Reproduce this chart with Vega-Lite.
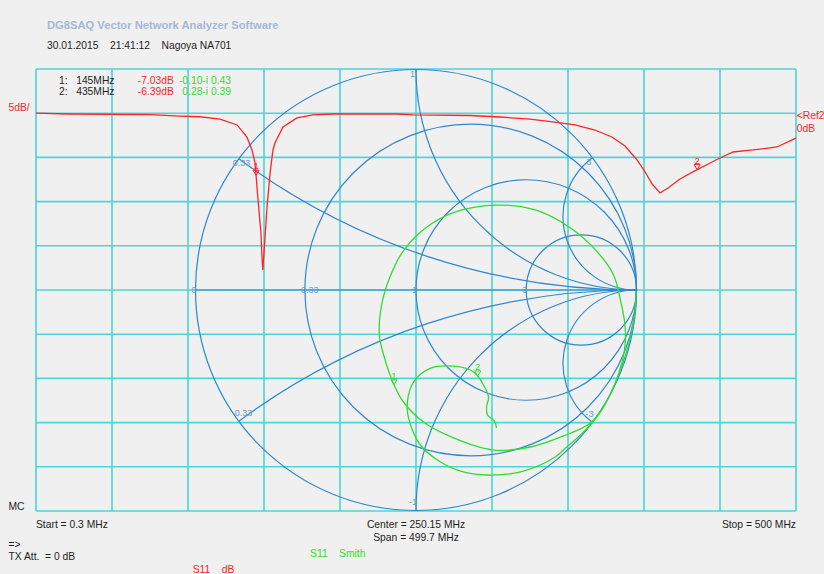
{
  "$schema": "https://vega.github.io/schema/vega-lite/v6.json",
  "width": 760,
  "height": 442,
  "autosize": {"type": "none"},
  "padding": {"left": 36, "top": 69, "right": 28, "bottom": 63},
  "background": "#f0f0f0",
  "config": {
    "view": {"stroke": null},
    "font": "Liberation Sans",
    "text": {"font": "Liberation Sans", "fontSize": 10.3}
  },
  "datasets": {
    "freqDivisions": [
      {"f": 0.3}, {"f": 50.27}, {"f": 100.24}, {"f": 150.21}, {"f": 200.18}, {"f": 250.15},
      {"f": 300.12}, {"f": 350.09}, {"f": 400.06}, {"f": 450.03}, {"f": 500}
    ],
    "dbDivisions": [
      {"db": -45}, {"db": -40}, {"db": -35}, {"db": -30}, {"db": -25}, {"db": -20},
      {"db": -15}, {"db": -10}, {"db": -5}, {"db": 0}, {"db": 5}
    ],
    "s11db": [
      {"f": 0.3, "db": 0.0}, {"f": 21.3, "db": -0.09}, {"f": 75.3, "db": -0.15}, {"f": 95.0, "db": -0.32},
      {"f": 108.1, "db": -0.40}, {"f": 121.3, "db": -0.66}, {"f": 132.5, "db": -1.33}, {"f": 139.0, "db": -2.69},
      {"f": 142.3, "db": -4.16}, {"f": 144.3, "db": -5.63}, {"f": 145.0, "db": -7.03}, {"f": 146.3, "db": -9.82},
      {"f": 148.2, "db": -13.55}, {"f": 148.9, "db": -16.27}, {"f": 149.4, "db": -17.74}, {"f": 150.2, "db": -15.81},
      {"f": 152.2, "db": -10.61}, {"f": 154.2, "db": -6.76}, {"f": 156.1, "db": -4.16}, {"f": 157.4, "db": -3.37},
      {"f": 162.7, "db": -1.56}, {"f": 171.9, "db": -0.54}, {"f": 182.4, "db": -0.20}, {"f": 195.6, "db": -0.09},
      {"f": 237.7, "db": -0.09}, {"f": 248.2, "db": -0.20}, {"f": 285.7, "db": -0.26}, {"f": 305.6, "db": -0.43},
      {"f": 325.1, "db": -0.66}, {"f": 341.5, "db": -1.0}, {"f": 354.7, "db": -1.33}, {"f": 367.8, "db": -1.90},
      {"f": 379.0, "db": -2.69}, {"f": 387.6, "db": -3.71}, {"f": 395.5, "db": -5.29}, {"f": 400.8, "db": -6.65},
      {"f": 405.4, "db": -8.01}, {"f": 410.6, "db": -9.03}, {"f": 415.9, "db": -8.46}, {"f": 423.7, "db": -7.44},
      {"f": 435.0, "db": -6.39}, {"f": 443.5, "db": -5.63}, {"f": 450.0, "db": -5.07}, {"f": 458.6, "db": -4.39},
      {"f": 471.7, "db": -4.16}, {"f": 487.5, "db": -3.82}, {"f": 500.0, "db": -2.81}
    ],
    "s11smith": [
      {"i": 1, "re": 0.998, "im": -0.005}, {"i": 2, "re": 0.991, "im": -0.113}, {"i": 3, "re": 0.964, "im": -0.249},
      {"i": 4, "re": 0.918, "im": -0.385}, {"i": 5, "re": 0.855, "im": -0.522}, {"i": 6, "re": 0.791, "im": -0.603},
      {"i": 7, "re": 0.669, "im": -0.662}, {"i": 8, "re": 0.519, "im": -0.712}, {"i": 9, "re": 0.351, "im": -0.726},
      {"i": 10, "re": 0.170, "im": -0.671}, {"i": 11, "re": 0.034, "im": -0.599}, {"i": 12, "re": -0.057, "im": -0.508},
      {"i": 13, "re": -0.10, "im": -0.43}, {"i": 14, "re": -0.143, "im": -0.308}, {"i": 15, "re": -0.166, "im": -0.204},
      {"i": 16, "re": -0.156, "im": -0.068}, {"i": 17, "re": -0.120, "im": 0.054}, {"i": 18, "re": -0.061, "im": 0.172},
      {"i": 19, "re": 0.043, "im": 0.281}, {"i": 20, "re": 0.179, "im": 0.354}, {"i": 21, "re": 0.365, "im": 0.385},
      {"i": 22, "re": 0.542, "im": 0.363}, {"i": 23, "re": 0.701, "im": 0.281}, {"i": 24, "re": 0.823, "im": 0.172},
      {"i": 25, "re": 0.896, "im": 0.068}, {"i": 26, "re": 0.927, "im": -0.045}, {"i": 27, "re": 0.946, "im": -0.145},
      {"i": 28, "re": 0.950, "im": -0.227}, {"i": 29, "re": 0.937, "im": -0.317}, {"i": 30, "re": 0.900, "im": -0.431},
      {"i": 31, "re": 0.837, "im": -0.553}, {"i": 32, "re": 0.760, "im": -0.644}, {"i": 33, "re": 0.678, "im": -0.717},
      {"i": 34, "re": 0.624, "im": -0.762}, {"i": 35, "re": 0.474, "im": -0.825}, {"i": 36, "re": 0.324, "im": -0.839},
      {"i": 37, "re": 0.215, "im": -0.825}, {"i": 38, "re": 0.111, "im": -0.780}, {"i": 39, "re": 0.020, "im": -0.703},
      {"i": 40, "re": -0.034, "im": -0.580}, {"i": 41, "re": -0.039, "im": -0.508}, {"i": 42, "re": -0.011, "im": -0.417},
      {"i": 43, "re": 0.066, "im": -0.354}, {"i": 44, "re": 0.170, "im": -0.345}, {"i": 45, "re": 0.247, "im": -0.363},
      {"i": 46, "re": 0.28, "im": -0.39}, {"i": 47, "re": 0.306, "im": -0.431}, {"i": 48, "re": 0.329, "im": -0.485},
      {"i": 49, "re": 0.320, "im": -0.531}, {"i": 50, "re": 0.324, "im": -0.567}, {"i": 51, "re": 0.356, "im": -0.594},
      {"i": 52, "re": 0.365, "im": -0.626}
    ],
    "markers": [
      {"m": "1", "f": 145, "db": -7.03, "re": -0.10, "im": -0.43},
      {"m": "2", "f": 435, "db": -6.39, "re": 0.28, "im": -0.39}
    ],
    "smithGrid": [
      {"curve": "r=0", "cx": 0, "cy": 0, "rad": 1, "t0": 0, "t1": 360},
      {"curve": "r=0.33", "cx": 0.2481, "cy": 0, "rad": 0.7519, "t0": 0, "t1": 360},
      {"curve": "r=1", "cx": 0.5, "cy": 0, "rad": 0.5, "t0": 0, "t1": 360},
      {"curve": "r=3", "cx": 0.75, "cy": 0, "rad": 0.25, "t0": 0, "t1": 360},
      {"curve": "x=0.33", "cx": 1, "cy": 3.0303, "rad": 3.0303, "t0": 180, "t1": 216.52},
      {"curve": "x=1", "cx": 1, "cy": 1, "rad": 1, "t0": 180, "t1": 270},
      {"curve": "x=3", "cx": 1, "cy": 0.3333, "rad": 0.3333, "t0": 180, "t1": 323.13},
      {"curve": "x=-0.33", "cx": 1, "cy": -3.0303, "rad": 3.0303, "t0": 323.48, "t1": 360},
      {"curve": "x=-1", "cx": 1, "cy": -1, "rad": 1, "t0": 270, "t1": 360},
      {"curve": "x=-3", "cx": 1, "cy": -0.3333, "rad": 0.3333, "t0": 216.87, "t1": 360}
    ],
    "smithLabels": [
      {"side": "axis", "label": "0", "re": -1, "im": 0},
      {"side": "axis", "label": "0.33", "re": -0.5038, "im": 0},
      {"side": "axis", "label": "1", "re": 0, "im": 0},
      {"side": "axis", "label": "3", "re": 0.5, "im": 0},
      {"side": "upper", "label": "0.33", "re": -0.8036, "im": 0.5952},
      {"side": "upper", "label": "1", "re": 0, "im": 1},
      {"side": "upper", "label": "3", "re": 0.8, "im": 0.6},
      {"side": "lower", "label": "-0.33", "re": -0.8036, "im": -0.5952},
      {"side": "lower", "label": "-1", "re": 0, "im": -1},
      {"side": "lower", "label": "-3", "re": 0.8, "im": -0.6}
    ]
  },
  "layer": [
    {
      "layer": [
        {
          "data": {"name": "freqDivisions"},
          "mark": {"type": "rule", "stroke": "#4cd5d9", "strokeWidth": 1.6},
          "encoding": {
            "x": {"field": "f", "type": "quantitative", "scale": {"domain": [0.3, 500], "nice": false, "zero": false}, "axis": null}
          }
        },
        {
          "data": {"name": "dbDivisions"},
          "mark": {"type": "rule", "stroke": "#4cd5d9", "strokeWidth": 1.6},
          "encoding": {
            "y": {"field": "db", "type": "quantitative", "scale": {"domain": [-45, 5], "nice": false, "zero": false}, "axis": null}
          }
        }
      ]
    },
    {
      "layer": [
        {
          "data": {"name": "smithGrid"},
          "mark": {"type": "arc", "filled": false, "stroke": "#2f88cf", "strokeWidth": 1.2},
          "encoding": {
            "x": {"field": "cx", "type": "quantitative", "scale": {"domain": [-1.7234, 1.7234], "nice": false, "zero": false}, "axis": null},
            "y": {"field": "cy", "type": "quantitative", "scale": {"domain": [-1.00227, 1.00227], "nice": false, "zero": false}, "axis": null},
            "radius": {"field": "rad", "type": "quantitative", "scale": {"type": "linear", "domain": [0, 1], "range": [0, 220.5], "zero": true, "nice": false}},
            "radius2": {"field": "rad"},
            "theta": {"field": "t0", "type": "quantitative", "scale": {"domain": [0, 360], "range": [0, 6.283185307179586]}, "stack": null},
            "theta2": {"field": "t1"}
          }
        },
        {
          "data": {"values": [{}]},
          "mark": {"type": "rule", "stroke": "#2f88cf", "strokeWidth": 1.2},
          "encoding": {
            "x": {"datum": -1, "type": "quantitative", "axis": null},
            "x2": {"datum": 1},
            "y": {"datum": 0, "type": "quantitative", "axis": null}
          }
        },
        {
          "data": {"name": "smithLabels"},
          "transform": [{"filter": "datum.side === 'axis'"}],
          "mark": {"type": "text", "align": "left", "baseline": "middle", "dx": -4, "fontSize": 9, "color": "#6a9ccc"},
          "encoding": {
            "x": {"field": "re", "type": "quantitative", "axis": null},
            "y": {"field": "im", "type": "quantitative", "axis": null},
            "text": {"field": "label"}
          }
        },
        {
          "data": {"name": "smithLabels"},
          "transform": [{"filter": "datum.side === 'upper'"}],
          "mark": {"type": "text", "align": "left", "baseline": "alphabetic", "dx": -6, "dy": 7, "fontSize": 9, "color": "#6a9ccc"},
          "encoding": {
            "x": {"field": "re", "type": "quantitative", "axis": null},
            "y": {"field": "im", "type": "quantitative", "axis": null},
            "text": {"field": "label"}
          }
        },
        {
          "data": {"name": "smithLabels"},
          "transform": [{"filter": "datum.side === 'lower'"}],
          "mark": {"type": "text", "align": "left", "baseline": "alphabetic", "dx": -7, "dy": -5, "fontSize": 9, "color": "#6a9ccc"},
          "encoding": {
            "x": {"field": "re", "type": "quantitative", "axis": null},
            "y": {"field": "im", "type": "quantitative", "axis": null},
            "text": {"field": "label"}
          }
        },
        {
          "data": {"name": "s11smith"},
          "mark": {"type": "line", "color": "#2fdc2f", "strokeWidth": 1.3, "interpolate": "catmull-rom"},
          "encoding": {
            "x": {"field": "re", "type": "quantitative", "axis": null},
            "y": {"field": "im", "type": "quantitative", "axis": null},
            "order": {"field": "i", "type": "quantitative"}
          }
        },
        {
          "data": {"name": "markers"},
          "mark": {"type": "point", "shape": "M-1,-1.7L1,-1.7L0,0Z", "size": 36, "filled": false, "color": "#2fdc2f", "strokeWidth": 1, "opacity": 1},
          "encoding": {
            "x": {"field": "re", "type": "quantitative", "axis": null},
            "y": {"field": "im", "type": "quantitative", "axis": null}
          }
        },
        {
          "data": {"name": "markers"},
          "mark": {"type": "text", "baseline": "alphabetic", "dy": -6, "fontSize": 9.5, "color": "#2fdc2f"},
          "encoding": {
            "x": {"field": "re", "type": "quantitative", "axis": null},
            "y": {"field": "im", "type": "quantitative", "axis": null},
            "text": {"field": "m"}
          }
        }
      ]
    },
    {
      "layer": [
        {
          "data": {"name": "s11db"},
          "mark": {"type": "line", "color": "#ff2424", "strokeWidth": 1.3},
          "encoding": {
            "x": {"field": "f", "type": "quantitative", "scale": {"domain": [0.3, 500], "nice": false, "zero": false}, "axis": null},
            "y": {"field": "db", "type": "quantitative", "scale": {"domain": [-45, 5], "nice": false, "zero": false}, "axis": null}
          }
        },
        {
          "data": {"name": "markers"},
          "mark": {"type": "point", "shape": "M-1,-1.7L1,-1.7L0,0Z", "size": 36, "filled": false, "color": "#ff2424", "strokeWidth": 1, "opacity": 1},
          "encoding": {
            "x": {"field": "f", "type": "quantitative", "axis": null},
            "y": {"field": "db", "type": "quantitative", "axis": null}
          }
        },
        {
          "data": {"name": "markers"},
          "mark": {"type": "text", "baseline": "alphabetic", "dy": -6, "fontSize": 9.5, "color": "#ff2424"},
          "encoding": {
            "x": {"field": "f", "type": "quantitative", "axis": null},
            "y": {"field": "db", "type": "quantitative", "axis": null},
            "text": {"field": "m"}
          }
        },
        {
          "data": {"values": [{}]},
          "mark": {"type": "text", "text": "DG8SAQ Vector Network Analyzer Software", "align": "left", "fontSize": 11.2, "fontWeight": "bold", "color": "#a4b8d6"},
          "encoding": {"x": {"datum": 7.53, "type": "quantitative", "axis": null}, "y": {"datum": 9.864, "type": "quantitative", "axis": null}}
        },
        {
          "data": {"values": [{}]},
          "mark": {"type": "text", "text": "30.01.2015\u00a0\u00a0\u00a0\u00a021:41:12\u00a0\u00a0\u00a0\u00a0Nagoya NA701", "align": "left", "color": "#1e1e1e"},
          "encoding": {"x": {"datum": 7.53, "type": "quantitative", "axis": null}, "y": {"datum": 7.602, "type": "quantitative", "axis": null}}
        },
        {
          "data": {"values": [{}]},
          "mark": {"type": "text", "text": ["1:\u00a0\u00a0\u00a0145MHz", "2:\u00a0\u00a0\u00a0435MHz"], "align": "left", "lineHeight": 11, "color": "#1e1e1e"},
          "encoding": {"x": {"datum": 15.42, "type": "quantitative", "axis": null}, "y": {"datum": 3.643, "type": "quantitative", "axis": null}}
        },
        {
          "data": {"values": [{}]},
          "mark": {"type": "text", "text": ["-7.03dB", "-6.39dB"], "align": "left", "lineHeight": 11, "color": "#ff2424"},
          "encoding": {"x": {"datum": 67.17, "type": "quantitative", "axis": null}, "y": {"datum": 3.643, "type": "quantitative", "axis": null}}
        },
        {
          "data": {"values": [{}]},
          "mark": {"type": "text", "text": ["-0.10-i 0.43", "0.28-i 0.39"], "align": "right", "lineHeight": 11, "color": "#2fdc2f"},
          "encoding": {"x": {"datum": 128.51, "type": "quantitative", "axis": null}, "y": {"datum": 3.643, "type": "quantitative", "axis": null}}
        },
        {
          "data": {"values": [{}]},
          "mark": {"type": "text", "text": "5dB/", "align": "left", "color": "#ff2424"},
          "encoding": {"x": {"datum": -17.78, "type": "quantitative", "axis": null}, "y": {"datum": 0.588, "type": "quantitative", "axis": null}}
        },
        {
          "data": {"values": [{}]},
          "mark": {"type": "text", "text": ["<Ref2", "\u00a00dB"], "align": "left", "lineHeight": 13, "color": "#ff2424"},
          "encoding": {"x": {"datum": 500.46, "type": "quantitative", "axis": null}, "y": {"datum": -0.373, "type": "quantitative", "axis": null}}
        },
        {
          "data": {"values": [{}]},
          "mark": {"type": "text", "text": "MC", "align": "left", "color": "#1e1e1e"},
          "encoding": {"x": {"datum": -17.78, "type": "quantitative", "axis": null}, "y": {"datum": -44.604, "type": "quantitative", "axis": null}}
        },
        {
          "data": {"values": [{}]},
          "mark": {"type": "text", "text": ["=>", "TX Att.\u00a0\u00a0= 0 dB"], "align": "left", "lineHeight": 12.5, "color": "#1e1e1e"},
          "encoding": {"x": {"datum": -17.78, "type": "quantitative", "axis": null}, "y": {"datum": -48.79, "type": "quantitative", "axis": null}}
        },
        {
          "data": {"values": [{}]},
          "mark": {"type": "text", "text": "Start = 0.3 MHz", "align": "left", "color": "#1e1e1e"},
          "encoding": {"x": {"datum": 0.3, "type": "quantitative", "axis": null}, "y": {"datum": -46.584, "type": "quantitative", "axis": null}}
        },
        {
          "data": {"values": [{}]},
          "mark": {"type": "text", "text": ["Center = 250.15 MHz", "Span = 499.7 MHz"], "align": "center", "lineHeight": 12.5, "color": "#1e1e1e"},
          "encoding": {"x": {"datum": 250.15, "type": "quantitative", "axis": null}, "y": {"datum": -46.584, "type": "quantitative", "axis": null}}
        },
        {
          "data": {"values": [{}]},
          "mark": {"type": "text", "text": "Stop = 500 MHz", "align": "right", "color": "#1e1e1e"},
          "encoding": {"x": {"datum": 500, "type": "quantitative", "axis": null}, "y": {"datum": -46.584, "type": "quantitative", "axis": null}}
        },
        {
          "data": {"values": [{}]},
          "mark": {"type": "text", "text": "S11\u00a0\u00a0\u00a0\u00a0Smith", "align": "left", "color": "#2fdc2f"},
          "encoding": {"x": {"datum": 180.5, "type": "quantitative", "axis": null}, "y": {"datum": -49.81, "type": "quantitative", "axis": null}}
        },
        {
          "data": {"values": [{}]},
          "mark": {"type": "text", "text": "S11\u00a0\u00a0\u00a0\u00a0dB", "align": "left", "color": "#ff2424"},
          "encoding": {"x": {"datum": 103.3, "type": "quantitative", "axis": null}, "y": {"datum": -51.7, "type": "quantitative", "axis": null}}
        }
      ]
    }
  ],
  "resolve": {"scale": {"x": "independent", "y": "independent"}}
}
